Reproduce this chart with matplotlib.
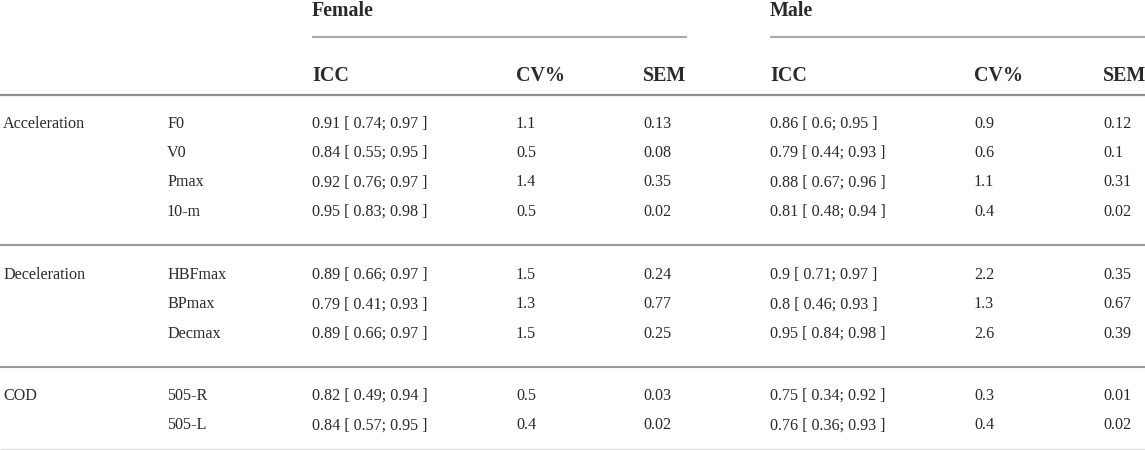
import matplotlib
matplotlib.use('Agg')
import matplotlib.pyplot as plt

# table data
groups = ["Acceleration", "Deceleration", "COD"]
group_sizes = [4, 3, 2]
measures = ["F0", "V0", "Pmax", "10-m", "HBFmax", "BPmax", "Decmax", "505-R", "505-L"]

female_icc = [0.91, 0.84, 0.92, 0.95, 0.89, 0.79, 0.89, 0.82, 0.84]
female_lo = [0.74, 0.55, 0.76, 0.83, 0.66, 0.41, 0.66, 0.49, 0.57]
female_hi = [0.97, 0.95, 0.97, 0.98, 0.97, 0.93, 0.97, 0.94, 0.95]
female_cv = [1.1, 0.5, 1.4, 0.5, 1.5, 1.3, 1.5, 0.5, 0.4]
female_sem = [0.13, 0.08, 0.35, 0.02, 0.24, 0.77, 0.25, 0.03, 0.02]

male_icc = [0.86, 0.79, 0.88, 0.81, 0.9, 0.8, 0.95, 0.75, 0.76]
male_lo = [0.6, 0.44, 0.67, 0.48, 0.71, 0.46, 0.84, 0.34, 0.36]
male_hi = [0.95, 0.93, 0.96, 0.94, 0.97, 0.93, 0.98, 0.92, 0.93]
male_cv = [0.9, 0.6, 1.1, 0.4, 2.2, 1.3, 2.6, 0.3, 0.4]
male_sem = [0.12, 0.1, 0.31, 0.02, 0.35, 0.67, 0.39, 0.01, 0.02]

col_headers = ["ICC", "CV%", "SEM"]

W, H = 1145, 450
TEXT = "#2a2a2a"
LINE = "#9a9a9a"

plt.rcParams['font.family'] = ['Liberation Serif', 'DejaVu Serif']

fig = plt.figure(figsize=(W / 100, H / 100), dpi=100)
ax = fig.add_axes([0, 0, 1, 1])
ax.set_xlim(0, W)
ax.set_ylim(H, 0)
ax.axis('off')

body = dict(fontsize=11.6, color=TEXT, va='baseline', ha='left')
head = dict(fontsize=14.4, color=TEXT, va='baseline', ha='left', fontweight='bold')

x_group, x_meas = 3, 167
x_female = [312, 516, 643]
x_male = [770, 974, 1103]

# header
ax.text(x_female[0], 16, "Female", **head)
ax.text(x_male[0], 16, "Male", **head)
ax.plot([x_female[0], 687], [37, 37], color="#a8a8a8", lw=1.5, solid_capstyle='butt')
ax.plot([x_male[0], W], [37, 37], color="#a8a8a8", lw=1.5, solid_capstyle='butt')
for xs in (x_female, x_male):
    for x, lab in zip(xs, col_headers):
        ax.text(x, 81, lab, **head)
ax.plot([0, W], [95, 95], color="#8f8f8f", lw=1.6, solid_capstyle='butt')


def ci(v, lo, hi):
    return f"{v:g} [ {lo:g}; {hi:g} ]"


row_gap = 29.4
group_top = [127.5, 279, 400]
sep_lines = [245, 367]

i = 0
for g, n, y0 in zip(groups, group_sizes, group_top):
    ax.text(x_group, y0, g, **body)
    for k in range(n):
        y = y0 + k * row_gap
        ax.text(x_meas, y, measures[i], **body)
        ax.text(x_female[0], y, ci(female_icc[i], female_lo[i], female_hi[i]), **body)
        ax.text(x_female[1], y, f"{female_cv[i]:g}", **body)
        ax.text(x_female[2], y, f"{female_sem[i]:g}", **body)
        ax.text(x_male[0], y, ci(male_icc[i], male_lo[i], male_hi[i]), **body)
        ax.text(x_male[1], y, f"{male_cv[i]:g}", **body)
        ax.text(x_male[2], y, f"{male_sem[i]:g}", **body)
        i += 1

for y in sep_lines:
    ax.plot([0, W], [y, y], color=LINE, lw=1.5, solid_capstyle='butt')
ax.plot([0, W], [449, 449], color="#e2e2e2", lw=1.0, solid_capstyle='butt')

fig.savefig("out.png", dpi=100)
